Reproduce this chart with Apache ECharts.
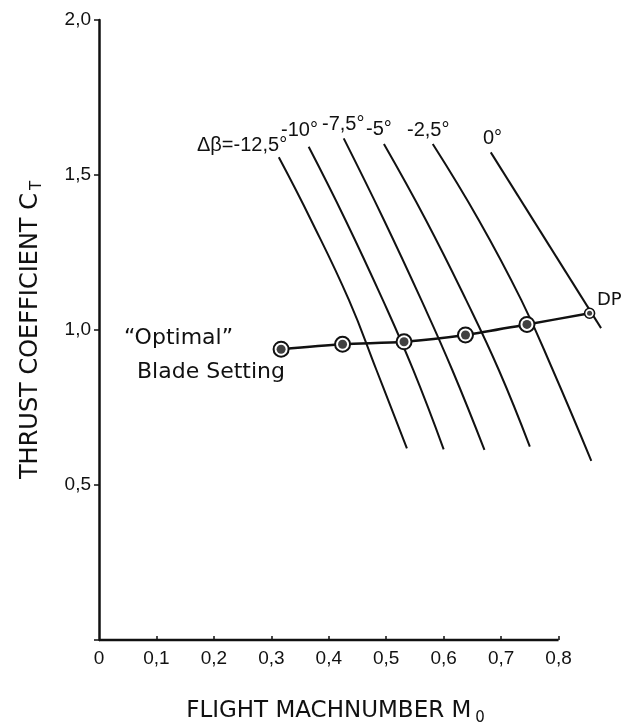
<!DOCTYPE html>
<html>
<head>
<meta charset="utf-8">
<script src="https://cdn.jsdelivr.net/npm/echarts@6/dist/echarts.min.js"></script>
<style>
  html, body { margin: 0; padding: 0; background: #fff; }
  #chart { width: 626px; height: 726px; }
</style>
</head>
<body>
<div id="chart"></div>
<script>
// Lines of constant blade-angle offset (flight Mach number vs thrust coefficient)
const mach_m125 = [0.313, 0.369, 0.435, 0.483, 0.536];
const ct_m125   = [1.557, 1.355, 1.097, 0.871, 0.618];
const mach_m10  = [0.365, 0.429, 0.494, 0.547, 0.600];
const ct_m10    = [1.591, 1.355, 1.097, 0.871, 0.615];
const mach_m75  = [0.426, 0.496, 0.561, 0.615, 0.671];
const ct_m75    = [1.618, 1.355, 1.097, 0.871, 0.613];
const mach_m5   = [0.496, 0.569, 0.639, 0.696, 0.750];
const ct_m5     = [1.600, 1.355, 1.097, 0.871, 0.624];
const mach_m25  = [0.581, 0.661, 0.735, 0.790, 0.857];
const ct_m25    = [1.600, 1.355, 1.097, 0.871, 0.578];
const mach_0    = [0.682, 0.874];
const ct_0      = [1.573, 1.006];

// "Optimal" blade setting line, last point is the design point (DP)
const optMach = [0.317, 0.424, 0.531, 0.638, 0.745, 0.854];
const optCt   = [0.938, 0.954, 0.962, 0.984, 1.018, 1.054];

const settingLabels = ['Δβ=-12,5°', '-10°', '-7,5°', '-5°', '-2,5°', '0°'];
const xTickValues = [0, 0.1, 0.2, 0.3, 0.4, 0.5, 0.6, 0.7, 0.8];
const yTickValues = [0.5, 1.0, 1.5, 2.0];
const xAxisEnd = 0.8;

const INK = '#111';
const FONT = "'Liberation Sans', 'DejaVu Sans', sans-serif";
const WIDE = "'DejaVu Sans', 'Liberation Sans', sans-serif";
const NARROW = "'Liberation Sans Narrow', 'Liberation Sans', sans-serif";

const pairs = (xs, ys) => xs.map((x, i) => [x, ys[i]]);
const curve = (name, xs, ys) => ({
  name, type: 'line', data: pairs(xs, ys), smooth: 0.45, symbol: 'none',
  clip: false, lineStyle: { color: INK, width: 2 }, z: 2
});
const comma = v => v.toFixed(1).replace('.', ',');

const chart = echarts.init(document.getElementById('chart'), null, { renderer: 'canvas' });

const optData = pairs(optMach, optCt);
const last = optData.length - 1;

chart.setOption({
  backgroundColor: '#fff',
  animation: false,
  grid: { left: 99, right: 10, top: 20, bottom: 86, outerBoundsMode: 'none', containLabel: false },
  xAxis: {
    type: 'value', min: 0, max: 0.9, interval: 0.1,
    name: 'FLIGHT MACHNUMBER M{sub|0}',
    nameLocation: 'middle', nameGap: 57,
    nameTextStyle: {
      fontFamily: WIDE, fontSize: 23, color: INK,
      padding: [0, 44, 0, 0],
      rich: { sub: { fontFamily: WIDE, fontSize: 15, color: INK, padding: [14, 0, 0, 4] } }
    },
    axisLine: { show: false },
    axisTick: {
      show: true, inside: true, length: 4, customValues: xTickValues.slice(1),
      lineStyle: { color: INK, width: 1.5 }
    },
    axisLabel: {
      margin: 9, fontFamily: NARROW, fontSize: 19, color: INK, customValues: xTickValues,
      formatter: v => (v === 0 ? '0' : (xTickValues.includes(v) ? comma(v) : ''))
    },
    splitLine: { show: false }
  },
  yAxis: {
    type: 'value', min: 0, max: 2.0, interval: 0.5,
    name: 'THRUST COEFFICIENT C{sub|T}',
    nameLocation: 'middle', nameGap: 54, nameRotate: 90,
    nameTextStyle: {
      fontFamily: WIDE, fontSize: 24, color: INK,
      rich: { sub: { fontFamily: WIDE, fontSize: 15, color: INK, padding: [14, 0, 0, 3] } }
    },
    axisLine: { show: true, lineStyle: { color: INK, width: 2.5 } },
    axisTick: { show: true, inside: false, length: 5, lineStyle: { color: INK, width: 1.5 } },
    axisLabel: {
      margin: 8, fontFamily: NARROW, fontSize: 19, color: INK,
      formatter: v => (yTickValues.includes(v) ? comma(v) : '')
    },
    splitLine: { show: false }
  },
  series: [
    // x axis baseline, drawn only up to its last labelled value
    {
      name: 'x-baseline', type: 'line', symbol: 'none', silent: true, clip: false, z: 1,
      data: [[0, 0], [xAxisEnd, 0]],
      lineStyle: { color: INK, width: 2.5 }
    },
    curve(settingLabels[0], mach_m125, ct_m125),
    curve(settingLabels[1], mach_m10, ct_m10),
    curve(settingLabels[2], mach_m75, ct_m75),
    curve(settingLabels[3], mach_m5, ct_m5),
    curve(settingLabels[4], mach_m25, ct_m25),
    curve(settingLabels[5], mach_0, ct_0),
    {
      name: 'optimal', type: 'line', smooth: 0.3, clip: false, z: 3,
      data: optData.map((p, i) => i === last
        ? { value: p, symbolSize: 10, itemStyle: { borderWidth: 1.6 } }
        : { value: p }),
      symbol: 'circle', symbolSize: 15,
      itemStyle: { color: '#fff', borderColor: INK, borderWidth: 2 },
      lineStyle: { color: INK, width: 2.5 }
    },
    {
      name: 'optimal-core', type: 'scatter', clip: false, z: 4,
      data: optData.map((p, i) => i === last ? { value: p, symbolSize: 5 } : { value: p }),
      symbol: 'circle', symbolSize: 9,
      itemStyle: { color: INK }
    }
  ],
  graphic: [
    { type: 'text', left: 197, top: 135, style: { text: settingLabels[0], font: `20px ${FONT}`, fill: INK } },
    { type: 'text', left: 281, top: 120, style: { text: settingLabels[1], font: `20px ${FONT}`, fill: INK } },
    { type: 'text', left: 322, top: 114, style: { text: settingLabels[2], font: `20px ${FONT}`, fill: INK } },
    { type: 'text', left: 366, top: 119, style: { text: settingLabels[3], font: `20px ${FONT}`, fill: INK } },
    { type: 'text', left: 407, top: 120, style: { text: settingLabels[4], font: `20px ${FONT}`, fill: INK } },
    { type: 'text', left: 483, top: 128, style: { text: settingLabels[5], font: `20px ${FONT}`, fill: INK } },
    { type: 'text', left: 597, top: 291, style: { text: 'DP', font: `18px ${WIDE}`, fill: INK } },
    { type: 'text', left: 124, top: 327, style: { text: '“Optimal”', font: `22px ${WIDE}`, fill: INK } },
    { type: 'text', left: 137, top: 361, style: { text: 'Blade Setting', font: `22px ${WIDE}`, fill: INK } }
  ]
});
</script>
</body>
</html>
